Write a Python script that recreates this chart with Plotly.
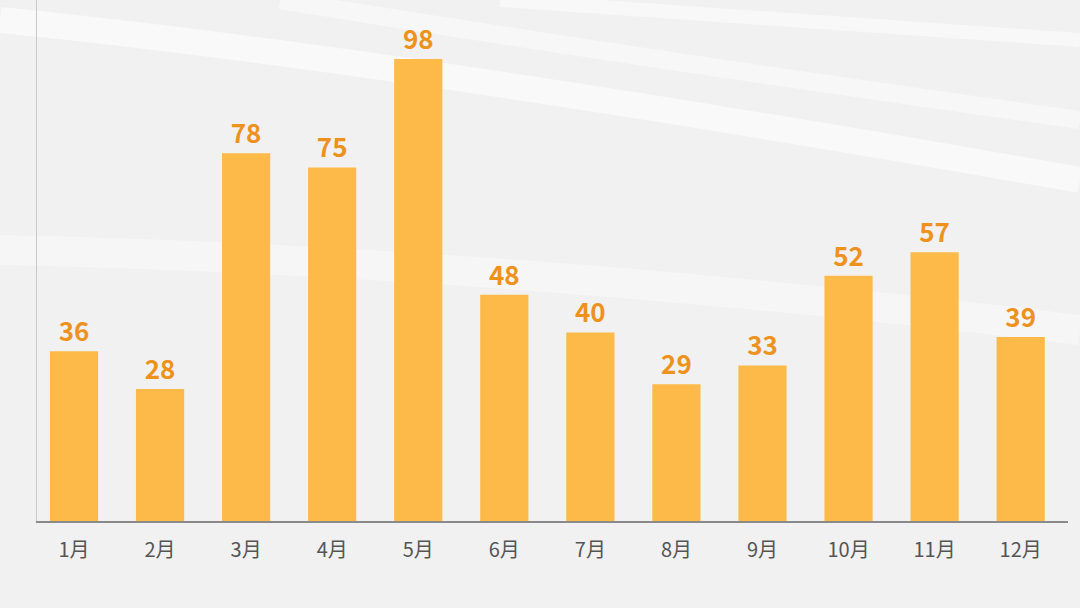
import plotly.graph_objects as go

months = ["1月", "2月", "3月", "4月", "5月", "6月", "7月", "8月", "9月", "10月", "11月", "12月"]
values = [36, 28, 78, 75, 98, 48, 40, 29, 33, 52, 57, 39]

BAR = "#FDBA48"
LABEL = "#EE921E"

fig = go.Figure()
fig.add_trace(go.Bar(
    x=list(range(len(months))), y=values,
    marker=dict(color=BAR, line=dict(width=0)),
    width=0.56,
    text=[str(v) for v in values], textposition="outside",
    textfont=dict(family="Noto Sans CJK SC", size=26, color=LABEL, weight="bold"),
    cliponaxis=False,
))

fig.update_layout(
    width=1080, height=608,
    margin=dict(l=37, r=12, t=0, b=87),
    paper_bgcolor="#F1F1F1",
    plot_bgcolor="rgba(0,0,0,0)",
    showlegend=False,
    xaxis=dict(
        range=[-0.43, 11.55],
        tickmode="array", tickvals=list(range(len(months))), ticktext=months,
        tickfont=dict(family="Noto Sans CJK SC", size=20, color="#555555"),
        showgrid=False, zeroline=False,
        showline=True, linecolor="#8A8A8A", linewidth=1.5,
        ticks="", ticklabelstandoff=10,
    ),
    yaxis=dict(
        range=[0, 110.5], showgrid=False, zeroline=False, showticklabels=False,
        showline=True, linecolor="#C8C8C8", linewidth=1, ticks="",
    ),
)

# soft background streaks (pixel paths converted to paper coords)
streaks = [
    ((0, 20), (400, 60), (1080, 180), 26, 0.55),
    ((280, 0), (650, 60), (1080, 120), 18, 0.45),
    ((0, 250), (500, 260), (1080, 330), 30, 0.35),
    ((500, 0), (800, 20), (1080, 40), 14, 0.5),
]


def conv(p):
    return (p[0] - 37) / (1080 - 37 - 12), (521 - p[1]) / 521


for a, b, c, w, op in streaks:
    (x0, y0), (x1, y1), (x2, y2) = conv(a), conv(b), conv(c)
    fig.add_shape(type="path", xref="paper", yref="paper", layer="below",
                  path=f"M {x0} {y0} Q {x1} {y1} {x2} {y2}",
                  line=dict(color="rgba(255,255,255,%s)" % op, width=w))

fig.write_html(
    "out.html",
    config={"displayModeBar": False},
    post_script="document.body.style.margin='0';document.body.style.background='#F1F1F1';document.body.style.overflow='hidden';",
)
